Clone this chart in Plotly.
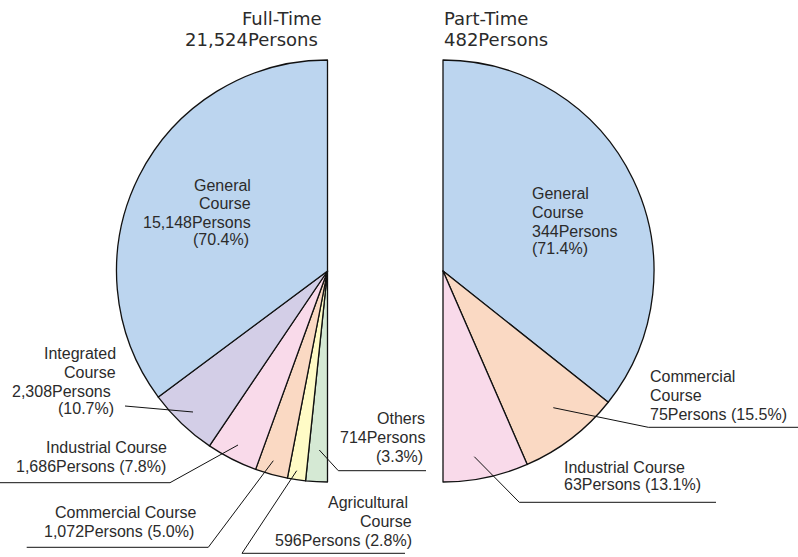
import plotly.graph_objects as go

# ---------------- data ----------------
ft_names = ["General Course", "Integrated Course", "Industrial Course",
            "Commercial Course", "Agricultural Course", "Others"]
ft_values = [15148, 2308, 1686, 1072, 596, 714]
ft_pct = ["70.4%", "10.7%", "7.8%", "5.0%", "2.8%", "3.3%"]

pt_names = ["General Course", "Commercial Course", "Industrial Course"]
pt_values = [344, 75, 63]
pt_pct = ["71.4%", "15.5%", "13.1%"]

ft_title = "Full-Time"
pt_title = "Part-Time"

# ---------------- styles ----------------
W, H = 798, 557
ft_colors = ["#BCD5EF", "#D3CEE7", "#F9DAEA", "#FAD9C3", "#FFFBC6", "#D5E9D4"]
pt_colors = ["#BCD5EF", "#FAD9C3", "#F9DAEA"]
TXT = "#2b2b2b"
LBL_FONT = dict(family="Liberation Sans, Arial, sans-serif", size=16, color=TXT)
TTL_FONT = dict(family="DejaVu Sans, sans-serif", size=18, color=TXT)
R = 211
FT_C = (327.5, 271)
PT_C = (443, 271)
EDGE = "#111111"


def dom(c):
    cx, cy = c
    return dict(x=[(cx - R) / W, (cx + R) / W],
                y=[(H - (cy + R)) / H, (H - (cy - R)) / H])


fig = go.Figure()

ft_total = sum(ft_values)
pt_total = sum(pt_values)

# Full-Time: left half; drawn clockwise from 6 o'clock in reversed order
fig.add_trace(go.Pie(
    values=ft_values[::-1] + [ft_total], labels=ft_names[::-1] + ["_blank"],
    sort=False, direction="clockwise", rotation=180,
    marker=dict(colors=ft_colors[::-1] + ["rgba(0,0,0,0)"],
                line=dict(color=EDGE, width=[1.3] * len(ft_values) + [0])),
    textinfo="none", hoverinfo="skip", showlegend=False, domain=dom(FT_C)))

# Part-Time: right half; clockwise from 12 o'clock
fig.add_trace(go.Pie(
    values=pt_values + [pt_total], labels=pt_names + ["_blank"],
    sort=False, direction="clockwise", rotation=0,
    marker=dict(colors=pt_colors + ["rgba(0,0,0,0)"],
                line=dict(color=EDGE, width=[1.3] * len(pt_values) + [0])),
    textinfo="none", hoverinfo="skip", showlegend=False, domain=dom(PT_C)))


def persons(v):
    return f"{v:,}Persons"


def words(n):
    return n.split(" ", 1)


annos = []


def add_lines(lines, x, baselines, anchor, font):
    xs = x if isinstance(x, list) else [x] * len(lines)
    for t, xx, b in zip(lines, xs, baselines):
        annos.append(dict(text=t, x=xx, y=b - 0.3465 * font["size"], xref="x", yref="y",
                          xanchor=anchor, yanchor="middle", showarrow=False,
                          font=font, borderpad=0))


# titles
add_lines([ft_title, persons(ft_total)], [323, 319], [25, 46], "right", TTL_FONT)
add_lines([pt_title, persons(pt_total)], 443, [25, 46], "left", TTL_FONT)

# full-time labels
i = 0
add_lines(words(ft_names[i]) + [persons(ft_values[i]), f"({ft_pct[i]})"],
          [252, 252, 252, 250], [190.7, 209.3, 227.7, 245.5], "right", LBL_FONT)
i = 1
add_lines(words(ft_names[i]) + [persons(ft_values[i]), f"({ft_pct[i]})"],
          [117, 117, 112, 115], [359.3, 378, 396.7, 414], "right", LBL_FONT)
i = 2
add_lines([ft_names[i], f"{persons(ft_values[i])} ({ft_pct[i]})"],
          [168, 167], [453.3, 471.7], "right", LBL_FONT)
i = 3
add_lines([ft_names[i], f"{persons(ft_values[i])} ({ft_pct[i]})"],
          [197, 195], [518.3, 536.7], "right", LBL_FONT)
i = 4
add_lines(words(ft_names[i]) + [f"{persons(ft_values[i])} ({ft_pct[i]})"],
          [409, 413, 413], [508.3, 526.7, 545.7], "right", LBL_FONT)
i = 5
add_lines([ft_names[i], persons(ft_values[i]), f"({ft_pct[i]})"],
          [426, 426, 424], [424.3, 443.3, 461.7], "right", LBL_FONT)

# part-time labels
i = 0
add_lines(words(pt_names[i]) + [persons(pt_values[i]), f"({pt_pct[i]})"],
          531, [199.3, 218.3, 236.7, 254.5], "left", LBL_FONT)
i = 1
add_lines(words(pt_names[i]) + [f"{persons(pt_values[i])} ({pt_pct[i]})"],
          649, [381.7, 401, 420], "left", LBL_FONT)
i = 2
add_lines([pt_names[i], f"{persons(pt_values[i])} ({pt_pct[i]})"],
          563, [472.7, 490], "left", LBL_FONT)

# leader lines
leaders = [
    [(125, 406), (193, 412)],
    [(0, 482.7), (170, 482.7), (238, 445)],
    [(26.7, 547.3), (208.3, 547.3), (273.3, 460.7)],
    [(405, 553.3), (242, 553.3), (296.7, 470.7)],
    [(319.3, 450), (338.3, 470.7), (426, 470.7)],
    [(553.3, 407.7), (648.3, 427.3), (798, 427.3)],
    [(474.3, 456.7), (519.3, 502.3), (716, 502.3)],
]
shapes = []
for pts in leaders:
    path = "M " + " L ".join(f"{x},{y}" for x, y in pts)
    shapes.append(dict(type="path", path=path, xref="x", yref="y",
                       line=dict(color=EDGE, width=1)))

fig.update_layout(
    width=W, height=H, margin=dict(l=0, r=0, t=0, b=0),
    paper_bgcolor="white", plot_bgcolor="rgba(0,0,0,0)",
    xaxis=dict(range=[0, W], visible=False, fixedrange=True),
    yaxis=dict(range=[H, 0], visible=False, fixedrange=True),
    annotations=annos, shapes=shapes, showlegend=False,
)

fig.write_html("out.html", config={"displayModeBar": False},
               post_script="document.body.style.margin='0px';")
